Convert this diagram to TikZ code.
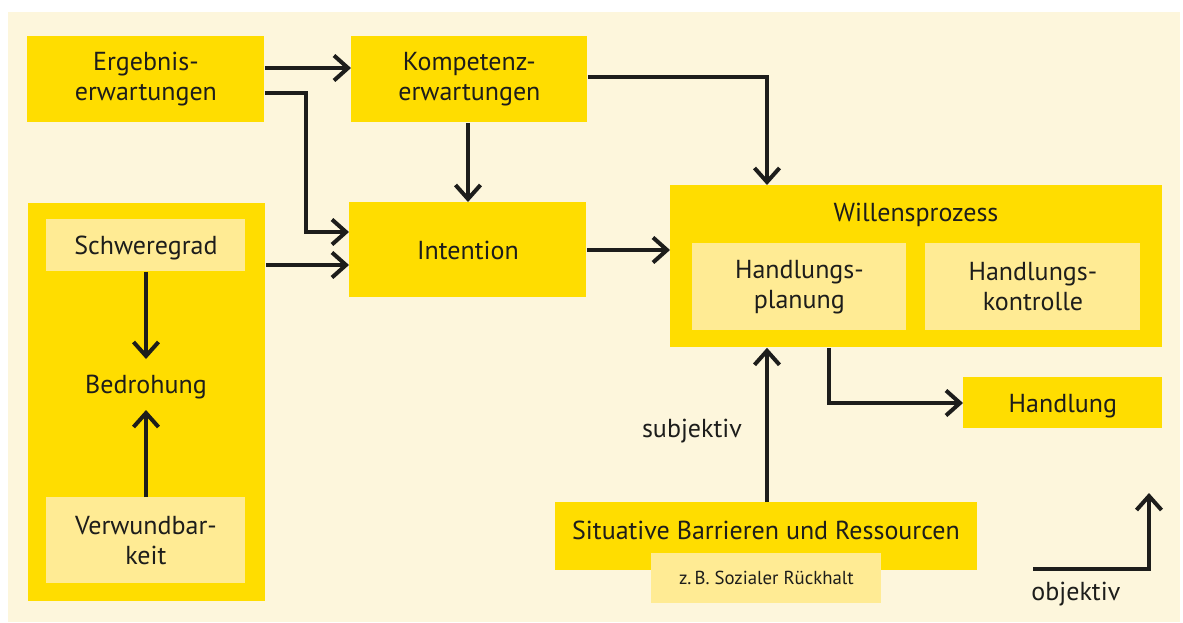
\documentclass[tikz,border=0pt]{standalone}
\usepackage{fontspec}
\setmainfont{PT Sans}
\usetikzlibrary{arrows.meta}
\definecolor{cream}{RGB}{253,246,220}
\definecolor{ygold}{RGB}{255,221,0}
\definecolor{ylight}{RGB}{255,235,148}
\definecolor{ink}{RGB}{29,29,27}
\tikzset{
  ybox/.style={fill=ygold, inner sep=0pt, anchor=north west, align=center, text=ink, font=\fontsize{13}{15}\selectfont},
  lbox/.style={fill=ylight, inner sep=0pt, anchor=north west, align=center, text=ink, font=\fontsize{13}{15}\selectfont},
  lbl/.style={text=ink, inner sep=0pt, font=\fontsize{13}{15}\selectfont},
  oneline/.style={text depth=0pt},
  arr/.style={draw=ink, line width=2pt, -{Straight Barb[length=7pt,width=12.5pt,line width=2pt]}}
}
\begin{document}
\begin{tikzpicture}[x=0.5pt,y=-0.5pt]
\useasboundingbox[fill=white] (0,0) rectangle (1183,622);
\fill[cream] (8,12) rectangle (1180,622);
% boxes
\node[ybox, minimum width=118.5pt, minimum height=43pt] (erg) at (27,36) {Ergebnis-\\erwartungen};
\node[ybox, minimum width=118pt, minimum height=43pt] (komp) at (351,36) {Kompetenz-\\erwartungen};
\node[ybox, oneline, minimum width=118.5pt, minimum height=47.5pt] (int) at (349,202) {Intention};
\node[ybox, minimum width=118.5pt, minimum height=199pt] (left) at (28,203) {};
\node[lbox, oneline, minimum width=99.5pt, minimum height=26pt] (schw) at (46,219) {Schweregrad};
\node[lbox, minimum width=99.5pt, minimum height=43pt] (verw) at (46,497) {Verwundbar-\\keit};
\node[lbl] (bedr) at (146,387) {Bedrohung};
\node[ybox, minimum width=246pt, minimum height=81pt] (will) at (670,185) {};
\node[lbl] (willt) at (916,215) {Willensprozess};
\node[lbox, minimum width=107pt, minimum height=43.5pt] (hp) at (692,243) {Handlungs-\\planung};
\node[lbox, minimum width=107.5pt, minimum height=43.5pt] (hk) at (925,243) {Handlungs-\\kontrolle};
\node[ybox, oneline, minimum width=99.5pt, minimum height=25.5pt] (hand) at (963,377) {Handlung};
\node[ybox, minimum width=211pt, minimum height=34pt] (sit) at (555,502) {};
\node[lbl] (sitt) at (766,530) {Situative Barrieren und Ressourcen};
\node[lbox, minimum width=115pt, minimum height=25pt, font=\fontsize{9.4}{11}\selectfont] (zb) at (651,553) {z.\,B. Sozialer Rückhalt};
\node[lbl] (subj) at (692,431) {subjektiv};
\node[lbl, anchor=west] (obj) at (1031,594) {objektiv};
% helper coordinates
\coordinate (y68) at (0,68);
\coordinate (y93) at (0,93);
\coordinate (y232) at (0,232);
\coordinate (y265) at (0,265);
\coordinate (y77) at (0,77);
\coordinate (y250) at (0,250);
\coordinate (y403) at (0,403);
\coordinate (x306) at (306,0);
\coordinate (x468) at (468,0);
\coordinate (x767) at (767,0);
\coordinate (x829) at (829,0);
\coordinate (x146) at (146,0);
\coordinate (bT) at (146,359);
\coordinate (bB) at (146,410);
\coordinate (oA) at (1033,569);
\coordinate (oB) at (1149,569);
\coordinate (oC) at (1149,493);
% connectors
\draw[arr] (erg.east |- y68) -- (komp.west |- y68);
\draw[arr] (erg.east |- y93) -- (x306 |- y93) -- (x306 |- y232) -- (int.west |- y232);
\draw[arr] (left.east |- y265) -- (int.west |- y265);
\draw[arr] (x468 |- komp.south) -- (x468 |- int.north);
\draw[arr] (komp.east |- y77) -- (x767 |- y77) -- (x767 |- will.north);
\draw[arr] (int.east |- y250) -- (will.west |- y250);
\draw[arr] (x829 |- will.south) -- (x829 |- y403) -- (hand.west |- y403);
\draw[arr] (x767 |- sit.north) -- (x767 |- will.south);
\draw[arr] (x146 |- schw.south) -- (bT);
\draw[arr] (x146 |- verw.north) -- (bB);
\draw[arr] (oA) -- (oB) -- (oC);
\end{tikzpicture}
\end{document}
